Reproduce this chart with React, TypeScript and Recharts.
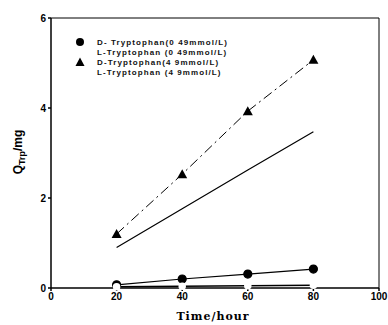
import React from 'react';
import { ComposedChart, Line, XAxis, YAxis, ReferenceLine } from 'recharts';

const hours = [20, 40, 60, 80];
const dTrpLow = [0.07, 0.2, 0.31, 0.42];
const lTrpLow = [0.03, 0.04, 0.05, 0.06];
const dTrpHigh = [1.2, 2.53, 3.93, 5.07];
const lTrpHigh = [0.9, 1.76, 2.62, 3.47];

const xTicks = [0, 20, 40, 60, 80, 100];
const yTicks = [0, 2, 4, 6];

const legendItems = [
  { label: 'D- Tryptophan(0 49mmol/L)', symbol: 'circle' },
  { label: 'L-Tryptophan (0 49mmol/L)', symbol: 'none' },
  { label: 'D-Tryptophan(4 9mmol/L)', symbol: 'triangle' },
  { label: 'L-Tryptophan (4 9mmol/L)', symbol: 'none' },
];

const data = hours.map((h, i) => ({
  hour: h,
  dLow: dTrpLow[i],
  lLow: lTrpLow[i],
  dHigh: dTrpHigh[i],
  lHigh: lTrpHigh[i],
}));

const font = '"Liberation Sans", Arial, sans-serif';

function Triangle(props: any) {
  const { cx, cy } = props;
  if (cx == null || cy == null) return null;
  return <polygon points={`${cx},${cy - 5} ${cx - 5},${cy + 4} ${cx + 5},${cy + 4}`} fill="#000" />;
}

function LegendBox() {
  return (
    <div
      style={{
        position: 'absolute',
        left: 75,
        top: 37,
        fontFamily: font,
        fontSize: 8,
        fontWeight: 'bold',
        letterSpacing: 1.1,
        color: '#111',
      }}
    >
      {legendItems.map((it) => (
        <div key={it.label} style={{ display: 'flex', alignItems: 'center', height: 10 }}>
          <svg width={22} height={10}>
            {it.symbol === 'circle' && <circle cx={5} cy={5} r={4} fill="#000" />}
            {it.symbol === 'triangle' && <polygon points="5,0.5 0.5,9 9.5,9" fill="#000" />}
          </svg>
          <span>{it.label}</span>
        </div>
      ))}
    </div>
  );
}

export default function App() {
  return (
    <div style={{ position: 'absolute', left: 0, top: 0, width: 388, height: 325, background: '#fff' }}>
      <ComposedChart width={388} height={325} data={data} margin={{ top: 18, right: 9, left: 21, bottom: 17 }}>
        <XAxis
          dataKey="hour"
          type="number"
          domain={[0, 100]}
          ticks={xTicks}
          stroke="#000"
          strokeWidth={1.5}
          tickSize={3}
          height={20}
          tick={{ fill: '#000', fontSize: 10, fontWeight: 'bold', fontFamily: font }}
        />
        <YAxis
          type="number"
          domain={[0, 6]}
          ticks={yTicks}
          stroke="#000"
          strokeWidth={1.5}
          tickSize={3}
          width={30}
          tick={{ fill: '#000', fontSize: 10, fontWeight: 'bold', fontFamily: font }}
        />
        <ReferenceLine y={6} stroke="#000" strokeWidth={1} />
        <ReferenceLine x={100} stroke="#000" strokeWidth={1} />
        <Line
          dataKey="dHigh"
          stroke="#000"
          strokeWidth={1}
          strokeDasharray="10 4 2 4"
          dot={<Triangle />}
          isAnimationActive={false}
        />
        <Line dataKey="lHigh" stroke="#000" strokeWidth={1.2} dot={false} isAnimationActive={false} />
        <Line
          dataKey="dLow"
          stroke="#000"
          strokeWidth={1.2}
          dot={{ r: 4, fill: '#000', stroke: '#000' }}
          isAnimationActive={false}
        />
        <Line
          dataKey="lLow"
          stroke="#000"
          strokeWidth={1.5}
          dot={{ r: 3, fill: '#fff', stroke: '#fff' }}
          isAnimationActive={false}
        />
        <text
          x={22}
          y={152}
          transform="rotate(-90 22 152)"
          textAnchor="middle"
          fontFamily={font}
          fontWeight="bold"
          fontSize={12}
          fill="#000"
        >
          Q<tspan fontSize={9} dy={3}>Trp</tspan>
          <tspan dy={-3}>/mg</tspan>
        </text>
        <text
          x={213}
          y={320}
          textAnchor="middle"
          fontFamily={'"DejaVu Serif", serif'}
          fontWeight="bold"
          fontSize={11}
          letterSpacing={1}
          fill="#000"
        >
          Time/hour
        </text>
      </ComposedChart>
      <LegendBox />
    </div>
  );
}
